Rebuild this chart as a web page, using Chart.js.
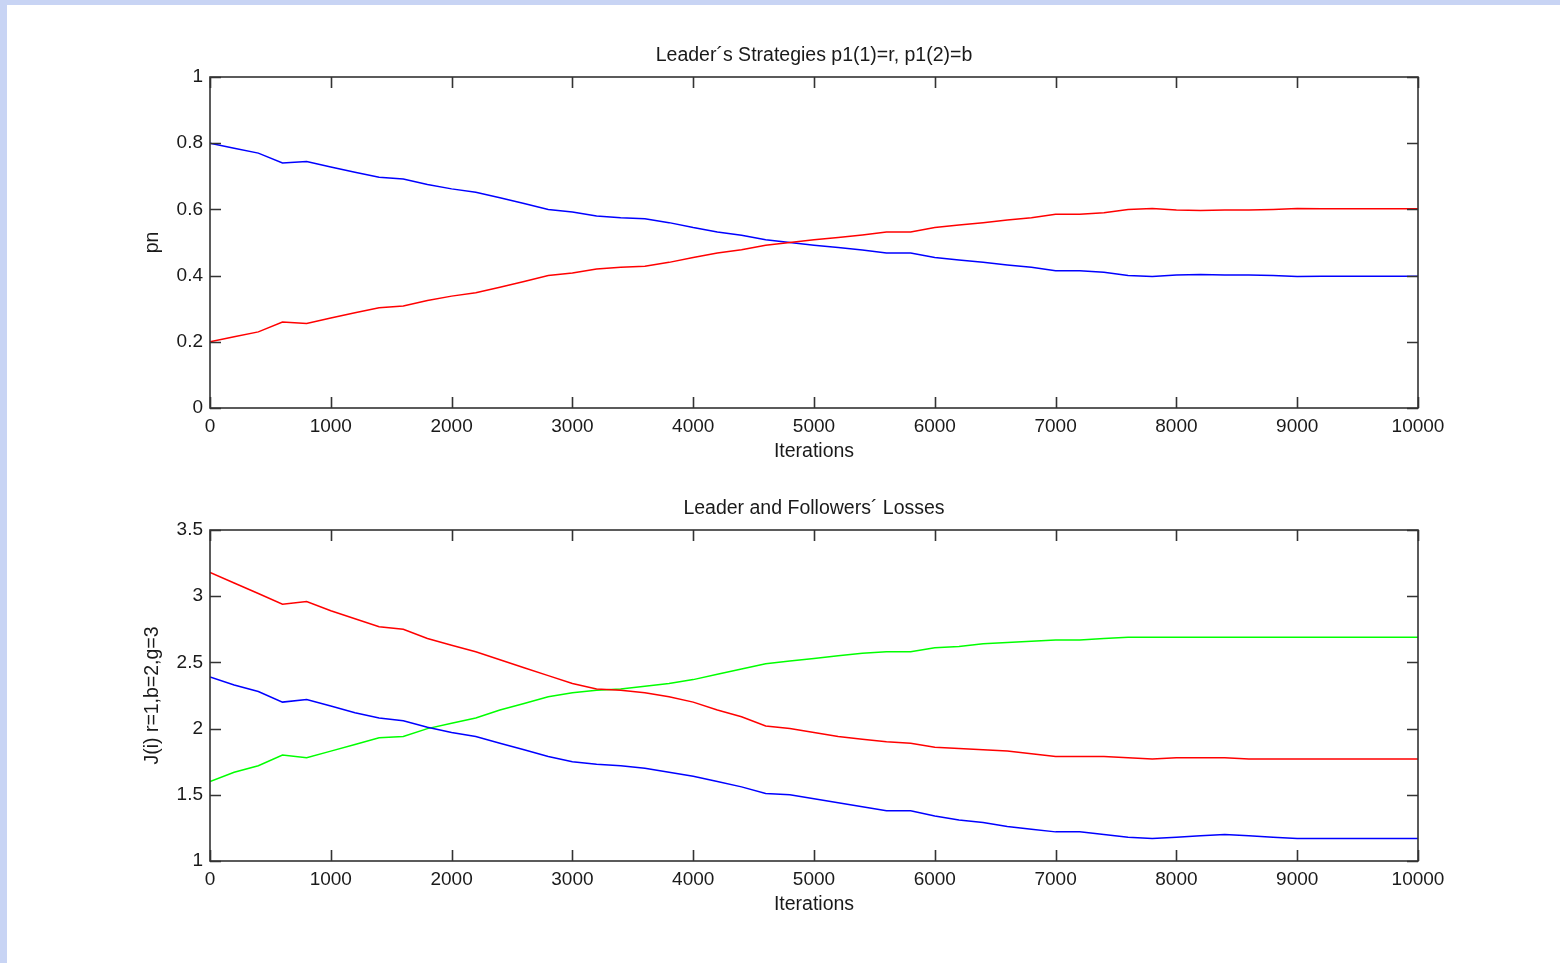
<!DOCTYPE html>
<html>
<head>
<meta charset="utf-8">
<script src="https://cdn.jsdelivr.net/npm/chart.js@4.4.0/dist/chart.umd.min.js"></script>
<style>
  html, body { margin: 0; padding: 0; background: #c8d4f4; overflow: hidden; }
  #page { position: absolute; left: 7px; top: 5px; width: 1553px; height: 958px; background: #fff; }
  .plot { position: absolute; left: 0; width: 1560px; height: 470px; }
</style>
</head>
<body>
<div id="page"></div>
<div class="plot" style="top:0px"><canvas id="topCanvas" width="1560" height="470"></canvas></div>
<div class="plot" style="top:453px"><canvas id="botCanvas" width="1560" height="470"></canvas></div>
<script>
// === Data (every 200 iterations) ===
const iterations = [0, 200, 400, 600, 800, 1000, 1200, 1400, 1600, 1800, 2000, 2200, 2400, 2600, 2800,
  3000, 3200, 3400, 3600, 3800, 4000, 4200, 4400, 4600, 4800, 5000, 5200, 5400, 5600, 5800,
  6000, 6200, 6400, 6600, 6800, 7000, 7200, 7400, 7600, 7800, 8000, 8200, 8400, 8600, 8800,
  9000, 9200, 9400, 9600, 9800, 10000];

// Leader's strategies
const stratRed = [0.200, 0.215, 0.230, 0.260, 0.255, 0.272, 0.288, 0.303, 0.308, 0.325, 0.338, 0.348, 0.365, 0.382, 0.400,
  0.408, 0.420, 0.425, 0.428, 0.440, 0.455, 0.468, 0.478, 0.492, 0.500, 0.508, 0.515, 0.523, 0.532, 0.532,
  0.545, 0.553, 0.560, 0.568, 0.575, 0.585, 0.585, 0.590, 0.600, 0.603, 0.598, 0.597, 0.598, 0.598, 0.600,
  0.603, 0.602, 0.602, 0.602, 0.602, 0.602];
const stratBlue = [0.800, 0.785, 0.770, 0.740, 0.745, 0.728, 0.712, 0.697, 0.692, 0.675, 0.662, 0.652, 0.635, 0.618, 0.600,
  0.592, 0.580, 0.575, 0.572, 0.560, 0.545, 0.532, 0.522, 0.508, 0.500, 0.492, 0.485, 0.477, 0.468, 0.468,
  0.455, 0.447, 0.440, 0.432, 0.425, 0.415, 0.415, 0.410, 0.400, 0.397, 0.402, 0.403, 0.402, 0.402, 0.400,
  0.397, 0.398, 0.398, 0.398, 0.398, 0.398];

// Losses J(i): r=1, b=2, g=3
const lossRed = [3.18, 3.10, 3.02, 2.94, 2.96, 2.89, 2.83, 2.77, 2.75, 2.68, 2.63, 2.58, 2.52, 2.46, 2.40,
  2.34, 2.30, 2.29, 2.27, 2.24, 2.20, 2.14, 2.09, 2.02, 2.00, 1.97, 1.94, 1.92, 1.90, 1.89,
  1.86, 1.85, 1.84, 1.83, 1.81, 1.79, 1.79, 1.79, 1.78, 1.77, 1.78, 1.78, 1.78, 1.77, 1.77,
  1.77, 1.77, 1.77, 1.77, 1.77, 1.77];
const lossBlue = [2.39, 2.33, 2.28, 2.20, 2.22, 2.17, 2.12, 2.08, 2.06, 2.01, 1.97, 1.94, 1.89, 1.84, 1.79,
  1.75, 1.73, 1.72, 1.70, 1.67, 1.64, 1.60, 1.56, 1.51, 1.50, 1.47, 1.44, 1.41, 1.38, 1.38,
  1.34, 1.31, 1.29, 1.26, 1.24, 1.22, 1.22, 1.20, 1.18, 1.17, 1.18, 1.19, 1.20, 1.19, 1.18,
  1.17, 1.17, 1.17, 1.17, 1.17, 1.17];
const lossGreen = [1.60, 1.67, 1.72, 1.80, 1.78, 1.83, 1.88, 1.93, 1.94, 2.00, 2.04, 2.08, 2.14, 2.19, 2.24,
  2.27, 2.29, 2.30, 2.32, 2.34, 2.37, 2.41, 2.45, 2.49, 2.51, 2.53, 2.55, 2.57, 2.58, 2.58,
  2.61, 2.62, 2.64, 2.65, 2.66, 2.67, 2.67, 2.68, 2.69, 2.69, 2.69, 2.69, 2.69, 2.69, 2.69,
  2.69, 2.69, 2.69, 2.69, 2.69, 2.69];

// === Helpers ===
const FONT = 'Liberation Sans, Arial, sans-serif';
const TEXT = '#1a1a1a';
const toPoints = arr => iterations.map((it, i) => ({ x: it, y: arr[i] }));
const series = (arr, color) => ({
  data: toPoints(arr), borderColor: color, borderWidth: 1.5, pointRadius: 0, tension: 0, fill: false
});

// MATLAB-style box with inward ticks on all four sides
const matlabBox = {
  id: 'matlabBox',
  afterDatasetsDraw(chart) {
    const { ctx, chartArea: a, scales: { x, y } } = chart;
    ctx.save();
    ctx.strokeStyle = '#333';
    ctx.lineWidth = 1.6;
    ctx.beginPath();
    x.ticks.forEach(t => {
      const px = Math.round(x.getPixelForValue(t.value)) + 0.5;
      ctx.moveTo(px, a.bottom); ctx.lineTo(px, a.bottom - 11);
      ctx.moveTo(px, a.top); ctx.lineTo(px, a.top + 11);
    });
    y.ticks.forEach(t => {
      const py = Math.round(y.getPixelForValue(t.value)) + 0.5;
      ctx.moveTo(a.left, py); ctx.lineTo(a.left + 11, py);
      ctx.moveTo(a.right, py); ctx.lineTo(a.right - 11, py);
    });
    ctx.stroke();
    ctx.strokeRect(a.left, a.top, a.right - a.left, a.bottom - a.top);
    ctx.restore();
  }
};

function makeChart(id, title, yTitle, datasets, yMin, yMax, yStep) {
  return new Chart(document.getElementById(id), {
    type: 'line',
    data: { datasets },
    plugins: [matlabBox],
    options: {
      responsive: false,
      animation: false,
      layout: { padding: { left: 0, right: 142, top: 0, bottom: 0 } },
      plugins: {
        legend: { display: false },
        tooltip: { enabled: false },
        title: {
          display: true, text: title, fullSize: false, color: TEXT,
          font: { family: FONT, size: 19.5, weight: 'normal' },
          padding: { top: 44, bottom: 9.6 }
        }
      },
      scales: {
        x: {
          type: 'linear', min: 0, max: 10000,
          afterFit: s => { s.height = 62; },
          grid: { display: false, drawTicks: false },
          border: { display: false },
          ticks: { stepSize: 1000, padding: 7, color: TEXT, maxRotation: 0,
                   font: { family: FONT, size: 19 }, callback: v => String(v) },
          title: { display: true, text: 'Iterations', color: TEXT,
                   font: { family: FONT, size: 19.5 }, padding: { top: 0, bottom: 7 } }
        },
        y: {
          min: yMin, max: yMax,
          afterFit: s => { s.width = 210; },
          grid: { display: false, drawTicks: false },
          border: { display: false },
          ticks: { stepSize: yStep, padding: 7, color: TEXT,
                   font: { family: FONT, size: 19 }, callback: v => String(+v.toFixed(2)) },
          title: { display: true, text: yTitle, color: TEXT,
                   font: { family: FONT, size: 19.5 }, padding: { top: 141, bottom: 0 } }
        }
      }
    }
  });
}

makeChart('topCanvas', 'Leader´s Strategies p1(1)=r, p1(2)=b', 'pn',
  [series(stratRed, '#ff0000'), series(stratBlue, '#0000ff')], 0, 1, 0.2);

makeChart('botCanvas', 'Leader and Followers´ Losses', 'J(i) r=1,b=2,g=3',
  [series(lossRed, '#ff0000'), series(lossBlue, '#0000ff'), series(lossGreen, '#00ff00')], 1, 3.5, 0.5);
</script>
</body>
</html>
